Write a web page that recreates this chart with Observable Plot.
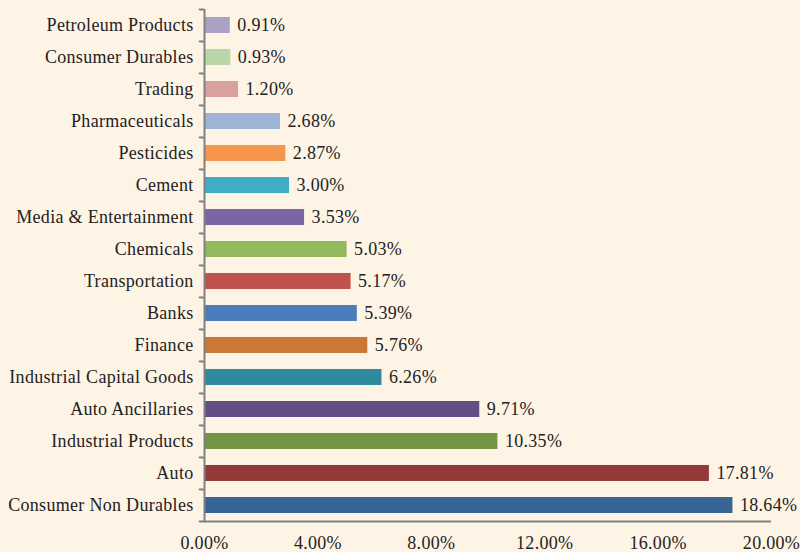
<!DOCTYPE html>
<html>
<head>
<meta charset="utf-8">
<script src="https://cdn.jsdelivr.net/npm/d3@7"></script>
<script src="https://cdn.jsdelivr.net/npm/@observablehq/plot@0.6"></script>
<style>
  html, body { margin: 0; padding: 0; background: #ffffff; }
  #chart svg { display: block; background: #FEF4E5; }
  #chart svg text { letter-spacing: 0.3px; }
</style>
</head>
<body>
<div id="chart"></div>
<script>
const categories = [
  "Petroleum Products", "Consumer Durables", "Trading", "Pharmaceuticals",
  "Pesticides", "Cement", "Media & Entertainment", "Chemicals",
  "Transportation", "Banks", "Finance", "Industrial Capital Goods",
  "Auto Ancillaries", "Industrial Products", "Auto", "Consumer Non Durables"
];
const values = [0.91, 0.93, 1.20, 2.68, 2.87, 3.00, 3.53, 5.03, 5.17, 5.39, 5.76, 6.26, 9.71, 10.35, 17.81, 18.64];
const colors = [
  "#A9A2C5", "#B9D6A8", "#D9A09F", "#9DB4D7", "#F7964A", "#40ACC6", "#7B65A7", "#92BA5C",
  "#BF514E", "#4A7EBB", "#CB7735", "#2F899F", "#624D84", "#739545", "#953939", "#366695"
];
const xTicks = [0, 4, 8, 12, 16, 20];

const data = categories.map((c, i) => ({category: c, value: values[i], color: colors[i]}));
const font = "'Liberation Serif', 'DejaVu Serif', serif";
const axisColor = "#808080";
const last = categories[categories.length - 1];

const chart = Plot.plot({
  width: 800,
  height: 552,
  marginLeft: 204,
  marginRight: 29,
  marginTop: 9,
  marginBottom: 31,
  style: {fontFamily: font, fontSize: "18px", color: "#222", background: "#FEF4E5"},
  x: {domain: [0, 20], axis: null},
  y: {domain: categories, paddingInner: 0.5, paddingOuter: 0.25, axis: null},
  marks: [
    Plot.barX(data, {x: "value", y: "category", fill: "color"}),
    Plot.text(data, {x: "value", y: "category", text: d => d.value.toFixed(2) + "%", textAnchor: "start", dx: 7, fill: "#222", fontSize: 18}),
    // y axis labels
    Plot.axisY({tickSize: 0, tickPadding: 11, fontSize: 18, label: null, color: "#222"}),
    // boundary ticks on y axis
    Plot.ruleY(categories, {y: d => d, x1: -0.18, x2: 0, dy: -16, stroke: axisColor, strokeWidth: 2, clip: false}),
    Plot.ruleY([last], {y: d => d, x1: -0.18, x2: 20, dy: 16, stroke: axisColor, strokeWidth: 2}),
    // x ticks
    Plot.ruleX(xTicks, {x: d => d, y1: last, y2: last, dy: 16, stroke: axisColor, strokeWidth: 2, insetBottom: -7}),
    Plot.axisX(xTicks, {tickSize: 0, tickPadding: 15, fontSize: 18, label: null, color: "#222", tickFormat: d => d.toFixed(2) + "%"}),
    // y axis line
    Plot.ruleX([0], {stroke: axisColor, strokeWidth: 2})
  ]
});
document.getElementById("chart").appendChild(chart);
</script>
</body>
</html>
